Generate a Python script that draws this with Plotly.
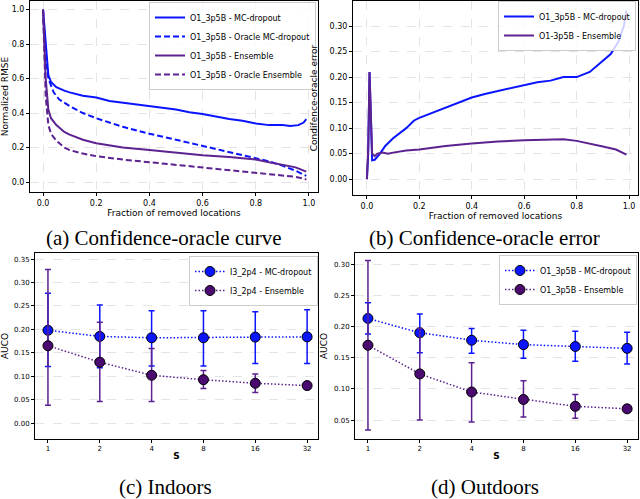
import plotly.graph_objects as go

# ---- (a) confidence-oracle curve ----
frac_mc = [0, 0.01, 0.02, 0.03, 0.05, 0.08, 0.1, 0.15, 0.2, 0.25, 0.3, 0.35, 0.4, 0.45, 0.5,
           0.55, 0.6, 0.65, 0.7, 0.75, 0.8, 0.85, 0.9, 0.93, 0.96, 0.98, 0.99]
rmse_mc = [1.0, 0.78, 0.62, 0.58, 0.55, 0.53, 0.52, 0.50, 0.49, 0.47, 0.46, 0.45, 0.44, 0.43, 0.42,
           0.405, 0.395, 0.38, 0.365, 0.355, 0.34, 0.33, 0.33, 0.325, 0.33, 0.345, 0.365]
frac_or_mc = [0, 0.01, 0.02, 0.04, 0.06, 0.1, 0.15, 0.2, 0.3, 0.4, 0.5, 0.6, 0.7, 0.8, 0.85, 0.9, 0.95, 0.99]
rmse_or_mc = [1.0, 0.72, 0.60, 0.52, 0.48, 0.44, 0.40, 0.37, 0.32, 0.28, 0.245, 0.21, 0.175, 0.14,
              0.12, 0.095, 0.065, 0.035]
frac_ens = [0, 0.01, 0.02, 0.03, 0.05, 0.08, 0.1, 0.15, 0.2, 0.3, 0.4, 0.5, 0.6, 0.7, 0.8, 0.85,
            0.9, 0.95, 0.99]
rmse_ens = [1.0, 0.6, 0.42, 0.37, 0.33, 0.29, 0.275, 0.245, 0.225, 0.2, 0.185, 0.17, 0.155, 0.145,
            0.13, 0.115, 0.1, 0.085, 0.06]
frac_or_ens = [0, 0.01, 0.02, 0.03, 0.05, 0.08, 0.1, 0.15, 0.2, 0.3, 0.4, 0.5, 0.6, 0.7, 0.8, 0.9, 0.95, 0.99]
rmse_or_ens = [1.0, 0.5, 0.33, 0.28, 0.24, 0.2, 0.185, 0.165, 0.15, 0.13, 0.115, 0.1, 0.085, 0.07,
               0.055, 0.04, 0.03, 0.015]

# ---- (b) confidence-oracle error ----
frac_err_mc = [0, 0.005, 0.01, 0.015, 0.02, 0.03, 0.05, 0.07, 0.1, 0.15, 0.18, 0.2, 0.25, 0.3, 0.35,
               0.4, 0.45, 0.5, 0.55, 0.6, 0.65, 0.7, 0.75, 0.8, 0.85, 0.9, 0.93, 0.96, 0.98, 0.99]
err_mc = [0.0, 0.05, 0.21, 0.12, 0.037, 0.038, 0.05, 0.065, 0.08, 0.1, 0.115, 0.12, 0.13, 0.14, 0.15,
          0.16, 0.167, 0.173, 0.178, 0.185, 0.19, 0.193, 0.2, 0.2, 0.21, 0.232, 0.245, 0.27, 0.3, 0.33]
frac_err_ens = [0, 0.005, 0.01, 0.015, 0.02, 0.03, 0.04, 0.06, 0.08, 0.1, 0.15, 0.2, 0.3, 0.4, 0.5,
                0.6, 0.7, 0.75, 0.8, 0.85, 0.9, 0.95, 0.99]
err_ens = [0.0, 0.06, 0.21, 0.1, 0.05, 0.045, 0.05, 0.052, 0.05, 0.052, 0.056, 0.058, 0.065, 0.07,
           0.074, 0.076, 0.077, 0.078, 0.075, 0.07, 0.064, 0.058, 0.048]

# ---- (c) indoors / (d) outdoors AUCO vs S ----
s_labels = ["1", "2", "4", "8", "16", "32"]
in_mc = [0.198, 0.185, 0.182, 0.182, 0.1835, 0.184]
in_mc_up = [0.079, 0.067, 0.058, 0.058, 0.054, 0.058]
in_mc_dn = [0.077, 0.067, 0.060, 0.060, 0.0565, 0.057]
in_ens = [0.165, 0.130, 0.102, 0.0925, 0.085, 0.080]
in_ens_up = [0.163, 0.085, 0.057, 0.0195, 0.0195, 0.0]
in_ens_dn = [0.127, 0.084, 0.056, 0.0185, 0.020, 0.0]
out_mc = [0.213, 0.190, 0.178, 0.171, 0.168, 0.165]
out_mc_up = [0.025, 0.030, 0.019, 0.023, 0.0245, 0.026]
out_mc_dn = [0.025, 0.032, 0.021, 0.022, 0.0235, 0.025]
out_ens = [0.170, 0.124, 0.095, 0.083, 0.072, 0.068]
out_ens_up = [0.136, 0.073, 0.047, 0.030, 0.019, 0.0]
out_ens_dn = [0.136, 0.074, 0.048, 0.028, 0.019, 0.0]

BLUE = "#0a14ff"
PURPLE = "#5b2290"
PURPLE_DARK = "#4a0a70"

fig = go.Figure()

# (a)
fig.add_trace(go.Scatter(x=frac_mc, y=rmse_mc, mode="lines", name="O1_3p5B - MC-dropout",
                         line=dict(color=BLUE, width=2), xaxis="x", yaxis="y", legend="legend"))
fig.add_trace(go.Scatter(x=frac_or_mc, y=rmse_or_mc, mode="lines", name="O1_3p5B - Oracle MC-dropout",
                         line=dict(color=BLUE, width=2, dash="6px,3px"), xaxis="x", yaxis="y", legend="legend"))
fig.add_trace(go.Scatter(x=frac_ens, y=rmse_ens, mode="lines", name="O1_3p5B - Ensemble",
                         line=dict(color=PURPLE, width=2), xaxis="x", yaxis="y", legend="legend"))
fig.add_trace(go.Scatter(x=frac_or_ens, y=rmse_or_ens, mode="lines", name="O1_3p5B - Oracle Ensemble",
                         line=dict(color=PURPLE, width=2, dash="6px,3px"), xaxis="x", yaxis="y", legend="legend"))

# (b)
fig.add_trace(go.Scatter(x=frac_err_mc, y=err_mc, mode="lines", name="O1_3p5B - MC-dropout",
                         line=dict(color=BLUE, width=2), xaxis="x2", yaxis="y2", legend="legend2"))
fig.add_trace(go.Scatter(x=frac_err_ens, y=err_ens, mode="lines", name="O1-3p5B - Ensemble",
                         line=dict(color=PURPLE, width=2), xaxis="x2", yaxis="y2", legend="legend2"))


def auco_trace(y, up, dn, name, color, fill, xa, ya, lg):
    return go.Scatter(x=s_labels, y=y, mode="lines+markers", name=name,
                      line=dict(color=color, width=1.5, dash="1.5px,2px"),
                      marker=dict(size=10, color=fill, line=dict(color="black", width=1)),
                      error_y=dict(type="data", symmetric=False, array=up, arrayminus=dn,
                                   color=color, thickness=1.5, width=3),
                      xaxis=xa, yaxis=ya, legend=lg)


# (c)
fig.add_trace(auco_trace(in_mc, in_mc_up, in_mc_dn, "I3_2p4 - MC-dropout", BLUE, BLUE, "x3", "y3", "legend3"))
fig.add_trace(auco_trace(in_ens, in_ens_up, in_ens_dn, "I3_2p4 - Ensemble", PURPLE, PURPLE_DARK,
                         "x3", "y3", "legend3"))
# (d)
fig.add_trace(auco_trace(out_mc, out_mc_up, out_mc_dn, "O1_3p5B - MC-dropout", BLUE, BLUE, "x4", "y4", "legend4"))
fig.add_trace(auco_trace(out_ens, out_ens_up, out_ens_dn, "O1_3p5B - Ensemble", PURPLE, PURPLE_DARK,
                         "x4", "y4", "legend4"))

W, H = 640, 499
tick_font = dict(family="DejaVu Sans", size=8, color="black")
title_font = dict(family="DejaVu Sans", size=9, color="black")
ax = dict(showline=True, linecolor="black", linewidth=1, mirror=True, ticks="outside", ticklen=3,
          tickcolor="black", showgrid=True, gridcolor="#e4e4e4", griddash="dash", zeroline=False,
          tickfont=tick_font)

leg = dict(font=dict(family="DejaVu Sans", size=8, color="black"), bgcolor="rgba(255,255,255,0.8)",
           bordercolor="#cccccc", borderwidth=1, xanchor="right", yanchor="top", tracegroupgap=0,
           itemwidth=30)

fig.update_layout(
    width=W, height=H, margin=dict(l=0, r=0, t=0, b=0),
    plot_bgcolor="white", paper_bgcolor="white",
    xaxis=dict(ax, domain=[30 / W, 318 / W], anchor="y", range=[-0.049, 1.034],
               tickvals=[0, 0.2, 0.4, 0.6, 0.8, 1.0], ticktext=["0.0", "0.2", "0.4", "0.6", "0.8", "1.0"],
               title=dict(text="Fraction of removed locations", font=title_font, standoff=2)),
    yaxis=dict(ax, domain=[1 - 192 / H, 1 - 1 / H], anchor="x", range=[-0.058, 1.05],
               tickvals=[0, 0.2, 0.4, 0.6, 0.8, 1.0], ticktext=["0.0", "0.2", "0.4", "0.6", "0.8", "1.0"],
               title=dict(text="Normalized RMSE", font=title_font, standoff=4)),
    xaxis2=dict(ax, domain=[353 / W, 638 / W], anchor="y2", range=[-0.053, 1.034],
                tickvals=[0, 0.2, 0.4, 0.6, 0.8, 1.0], ticktext=["0.0", "0.2", "0.4", "0.6", "0.8", "1.0"],
                title=dict(text="Fraction of removed locations", font=title_font, standoff=2)),
    yaxis2=dict(ax, domain=[1 - 195 / H, 1 - 1 / H], anchor="x2", range=[-0.031, 0.349],
                tickvals=[0, 0.05, 0.1, 0.15, 0.2, 0.25, 0.3],
                ticktext=["0.00", "0.05", "0.10", "0.15", "0.20", "0.25", "0.30"],
                title=dict(text="Condifence-oracle error", font=title_font, standoff=10)),
    xaxis3=dict(ax, domain=[35 / W, 318 / W], anchor="y3", type="category", range=[-0.25, 5.21],
                showgrid=False, tickfont=dict(tick_font, size=7),
                title=dict(text="<b>S</b>", font=title_font, standoff=0)),
    yaxis3=dict(ax, domain=[1 - 439 / H, 1 - 253 / H], anchor="x3", range=[-0.034, 0.363],
                tickvals=[0, 0.05, 0.1, 0.15, 0.2, 0.25, 0.3, 0.35],
                ticktext=["0.00", "0.05", "0.10", "0.15", "0.20", "0.25", "0.30", "0.35"],
                tickfont=dict(tick_font, size=7),
                title=dict(text="AUCO", font=title_font, standoff=4)),
    xaxis4=dict(ax, domain=[355 / W, 638 / W], anchor="y4", type="category", range=[-0.25, 5.21],
                showgrid=False, tickfont=dict(tick_font, size=7),
                title=dict(text="<b>S</b>", font=title_font, standoff=0)),
    yaxis4=dict(ax, domain=[1 - 439 / H, 1 - 253 / H], anchor="x4", range=[0.0196, 0.318],
                tickvals=[0.05, 0.1, 0.15, 0.2, 0.25, 0.3],
                ticktext=["0.05", "0.10", "0.15", "0.20", "0.25", "0.30"],
                tickfont=dict(tick_font, size=7),
                title=dict(text="AUCO", font=title_font, standoff=4)),
    legend=dict(leg, x=316 / W, y=1 - 2 / H),
    legend2=dict(leg, x=636 / W, y=1 - 1 / H),
    legend3=dict(leg, x=318 / W, y=1 - 256 / H),
    legend4=dict(leg, x=637 / W, y=1 - 255 / H),
)

captions = [("(a) Confidence-oracle curve", 164, 238), ("(b) Confidence-oracle error", 484, 238),
            ("(c) Indoors", 165, 487), ("(d) Outdoors", 485, 487)]
for text, cx, cy in captions:
    fig.add_annotation(text=text, x=cx / W, y=1 - cy / H, xref="paper", yref="paper",
                       showarrow=False, xanchor="center", yanchor="middle",
                       font=dict(family="Liberation Serif, Times New Roman, serif", size=21, color="black"))

# drop the default page margin so the 640x499 figure fills the window
fig.write_html("out.html", config={"displayModeBar": False},
               post_script="document.body.style.margin='0';document.body.style.overflow='hidden';")
